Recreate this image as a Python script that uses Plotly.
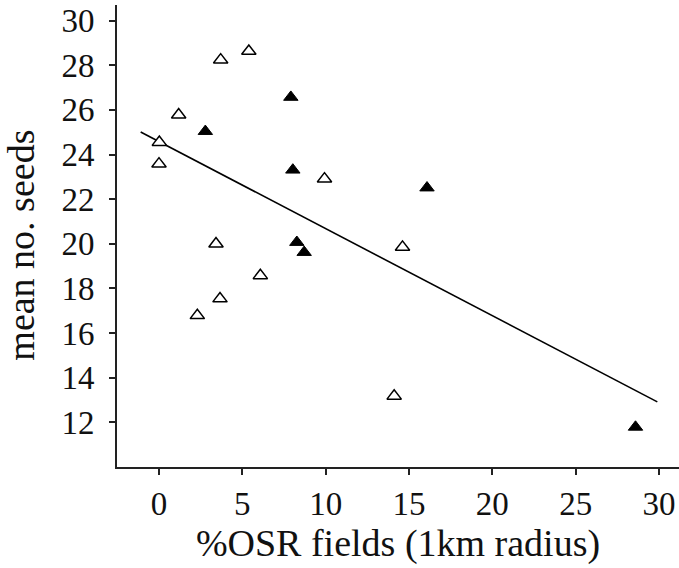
import plotly.graph_objects as go

# Open triangles
open_x = [3.7, 5.39, 1.18, 0.02, 0.0, 9.93, 3.42, 6.08, 3.66, 2.3, 14.11, 14.61]
open_y = [28.24, 28.63, 25.78, 24.55, 23.58, 22.91, 20.0, 18.58, 17.54, 16.79, 13.18, 19.85]
# Filled triangles
filled_x = [7.91, 2.78, 8.03, 8.27, 8.71, 16.08, 28.59]
filled_y = [26.57, 25.04, 23.31, 20.07, 19.62, 22.51, 11.79]
# Regression line
fit_intercept = 24.58
fit_slope = -0.39
fit_range = [-1.1, 29.9]

x_ticks = [0, 5, 10, 15, 20, 25, 30]
y_ticks = [12, 14, 16, 18, 20, 22, 24, 26, 28, 30]

font = "Liberation Serif, Times New Roman, serif"

fig = go.Figure()
fig.add_trace(go.Scatter(
    x=fit_range, y=[fit_intercept + fit_slope * v for v in fit_range],
    mode="lines", line=dict(color="black", width=1.6), showlegend=False))
fig.add_trace(go.Scatter(
    x=open_x, y=open_y, mode="markers", showlegend=False,
    marker=dict(symbol="triangle-up", size=12.5, color="white",
                line=dict(color="black", width=1.5))))
fig.add_trace(go.Scatter(
    x=filled_x, y=filled_y, mode="markers", showlegend=False,
    marker=dict(symbol="triangle-up", size=12.5, color="black",
                line=dict(color="black", width=1))))

fig.update_layout(
    width=679, height=568,
    margin=dict(l=117, r=0, t=5, b=101, autoexpand=False),
    paper_bgcolor="white", plot_bgcolor="white",
    font=dict(family=font, size=32, color="#111"),
    xaxis=dict(range=[-2.52, 31.2], tickvals=x_ticks, ticks="outside",
               ticklen=6, tickwidth=2, tickcolor="#222", showline=True,
               linecolor="#222", linewidth=2, showgrid=False, zeroline=False,
               ticklabelstandoff=0, automargin=False,
               tickfont=dict(family=font, size=33),
               title=dict(text="%OSR fields (1km radius)", standoff=8,
                          font=dict(family=font, size=38))),
    yaxis=dict(range=[10.0, 30.7], tickvals=y_ticks, ticks="outside",
               ticklen=6, tickwidth=2, tickcolor="#222", showline=True,
               linecolor="#222", linewidth=2, showgrid=False, zeroline=False,
               ticklabelstandoff=8, automargin=False,
               tickfont=dict(family=font, size=33)),
    annotations=[dict(text="mean no. seeds", textangle=-90, showarrow=False,
                      xref="paper", yref="paper", x=-0.171, y=0.481,
                      xanchor="center", yanchor="middle",
                      font=dict(family=font, size=38, color="#111"))],
)
fig.write_html("out.html", config={"displayModeBar": False},
               post_script="document.body.style.margin='0';document.body.style.overflow='hidden';")
